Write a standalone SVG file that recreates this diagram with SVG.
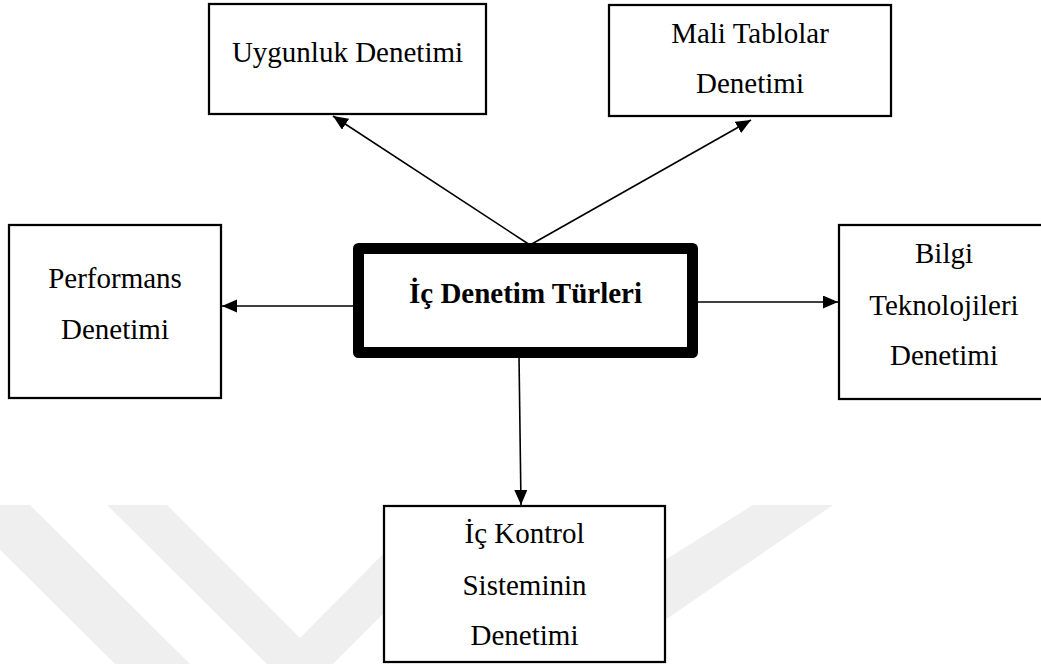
<svg xmlns="http://www.w3.org/2000/svg" width="1041" height="664" viewBox="0 0 1041 664">
  <style>
    .box { fill: #ffffff; stroke: #000000; stroke-width: 2.25; }
    .main { fill: #ffffff; stroke: #000000; stroke-width: 11; stroke-linejoin: round; }
    .lbl { font-family: "Liberation Serif", "Times New Roman", serif; font-size: 29px; fill: #000000; text-anchor: middle; }
    .bold { font-weight: bold; }
    .edge { stroke: #000000; stroke-width: 1.6; fill: none; marker-end: url(#arrow); }
    .wm { fill: #efefef; stroke: none; }
  </style>
  <defs>
    <marker id="arrow" markerUnits="userSpaceOnUse" markerWidth="16" markerHeight="14" refX="15" refY="6.5" orient="auto">
      <path d="M0,0 L15,6.5 L0,13 Z" fill="#000000"/>
    </marker>
  </defs>
  <rect width="1041" height="664" fill="#ffffff"/>
  <g id="watermark">
    <polygon class="wm" points="-45,505 30,505 190,664 115,664"/>
    <polygon class="wm" points="107,505 167,505 300,638 384,553 384,613 300,697 "/>
    <polygon class="wm" points="665,560 753,505 833,505 665,620"/>
  </g>
  <g id="connectors">
    <line class="edge" x1="530" y1="245" x2="333" y2="116"/>
    <line class="edge" x1="530" y1="245" x2="751" y2="120"/>
    <line class="edge" x1="355" y1="306" x2="222" y2="306"/>
    <line class="edge" x1="696" y1="302" x2="838" y2="302"/>
    <line class="edge" x1="519" y1="356" x2="521" y2="505"/>
  </g>
  <g id="node-uygunluk">
    <rect class="box" x="209" y="4" width="277" height="110"/>
    <text class="lbl" x="347.5" y="62">Uygunluk Denetimi</text>
  </g>
  <g id="node-mali">
    <rect class="box" x="609" y="5" width="282" height="111"/>
    <text class="lbl" x="750" y="43">Mali Tablolar</text>
    <text class="lbl" x="750" y="93">Denetimi</text>
  </g>
  <g id="node-main">
    <rect class="main" x="358.5" y="248.5" width="334" height="104"/>
    <text class="lbl bold" x="525.5" y="303">İç Denetim Türleri</text>
  </g>
  <g id="node-performans">
    <rect class="box" x="9" y="225" width="212" height="173"/>
    <text class="lbl" x="115" y="288">Performans</text>
    <text class="lbl" x="115" y="339">Denetimi</text>
  </g>
  <g id="node-bilgi">
    <rect class="box" x="839" y="225" width="210" height="174"/>
    <text class="lbl" x="944" y="263">Bilgi</text>
    <text class="lbl" x="944" y="315">Teknolojileri</text>
    <text class="lbl" x="944" y="365">Denetimi</text>
  </g>
  <g id="node-ickontrol">
    <rect class="box" x="384" y="506" width="281" height="156"/>
    <text class="lbl" x="524.5" y="543">İç Kontrol</text>
    <text class="lbl" x="524.5" y="595">Sisteminin</text>
    <text class="lbl" x="524.5" y="645">Denetimi</text>
  </g>
</svg>
